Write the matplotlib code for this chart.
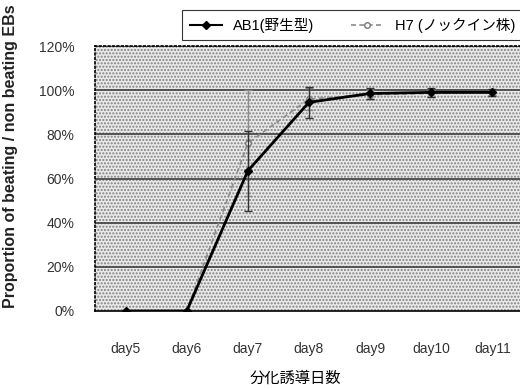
import matplotlib
matplotlib.use("Agg")
import matplotlib.pyplot as plt
from matplotlib.lines import Line2D
import numpy as np

plt.rcParams['font.family'] = ['Liberation Sans', 'Noto Sans CJK JP', 'DejaVu Sans']

days = ["day5", "day6", "day7", "day8", "day9", "day10", "day11"]
ab1 = [0, 0, 63.5, 94.5, 98.5, 99, 99]
ab1_err = [0, 0, 18, 7, 2.5, 2, 1.5]
h7 = [0, 0, 76, 96, 98, 98.5, 99]
h7_err = [0, 0, 24, 5, 2, 1.5, 1]
yticks = [0, 20, 40, 60, 80, 100, 120]
labels = ["AB1(野生型)", "H7 (ノックイン株)"]

fig = plt.figure(figsize=(5.2, 3.9), dpi=100)
ax = fig.add_axes([95/520, 79/390, 428/520, 265/390])

x = np.arange(len(days))
ax.set_facecolor("#e9e9e9")
ax.patch.set_hatch(".....")
ax.patch.set_edgecolor("#808080")
ax.patch.set_linewidth(0)

for t in yticks[1:]:
    ax.axhline(t, color="#4a4a4a", lw=1.3, zorder=1)

ax.errorbar(x, h7, yerr=h7_err, color="#8c8c8c", lw=1.2, ls=(0, (3, 2)),
            marker="o", ms=4, mfc="white", mec="#777777", capsize=3,
            elinewidth=1, zorder=3)
ax.errorbar(x, ab1, yerr=ab1_err, color="black", lw=2, marker="D", ms=4,
            capsize=3, elinewidth=1, ecolor="#333333", zorder=4)

ax.set_xlim(-0.5, 6.5)
ax.set_ylim(0, 120)
ax.set_xticks(x)
ax.set_xticklabels(days, fontsize=10, color="#333333")
ax.set_yticks(yticks)
ax.set_yticklabels([f"{t}%" for t in yticks], fontsize=10, color="#333333")
ax.tick_params(axis="x", length=0, pad=22)
ax.tick_params(axis="y", length=0, pad=15)
for s in ax.spines.values():
    s.set_linestyle(":")
    s.set_color("black")
    s.set_linewidth(1.2)
ax.spines["bottom"].set_linestyle("-")

ax.set_ylabel("Proportion of beating / non beating EBs", fontsize=11.5,
              fontweight="bold", color="#222222")
ax.yaxis.set_label_coords(-0.18, 0.585)
fig.text(295/520, 1 - 378/390, "分化誘導日数", ha="center", va="center",
         fontsize=11, family=['Noto Sans CJK JP'])

handles = [Line2D([], [], color="black", lw=1.5, marker="D", ms=4),
           Line2D([], [], color="#8c8c8c", lw=1.2, ls=(0, (3, 2)), marker="o",
                  ms=4, mfc="white", mec="#777777")]
leg = fig.legend(handles, labels, ncol=2, loc="upper left",
                 bbox_to_anchor=(175/520, 1 - 3/390), fontsize=10.5,
                 frameon=True, fancybox=False, edgecolor="black",
                 handlelength=2.2, columnspacing=2.5, borderpad=0.5)
leg.get_frame().set_linewidth(0.8)

fig.savefig("out.png", dpi=100)
